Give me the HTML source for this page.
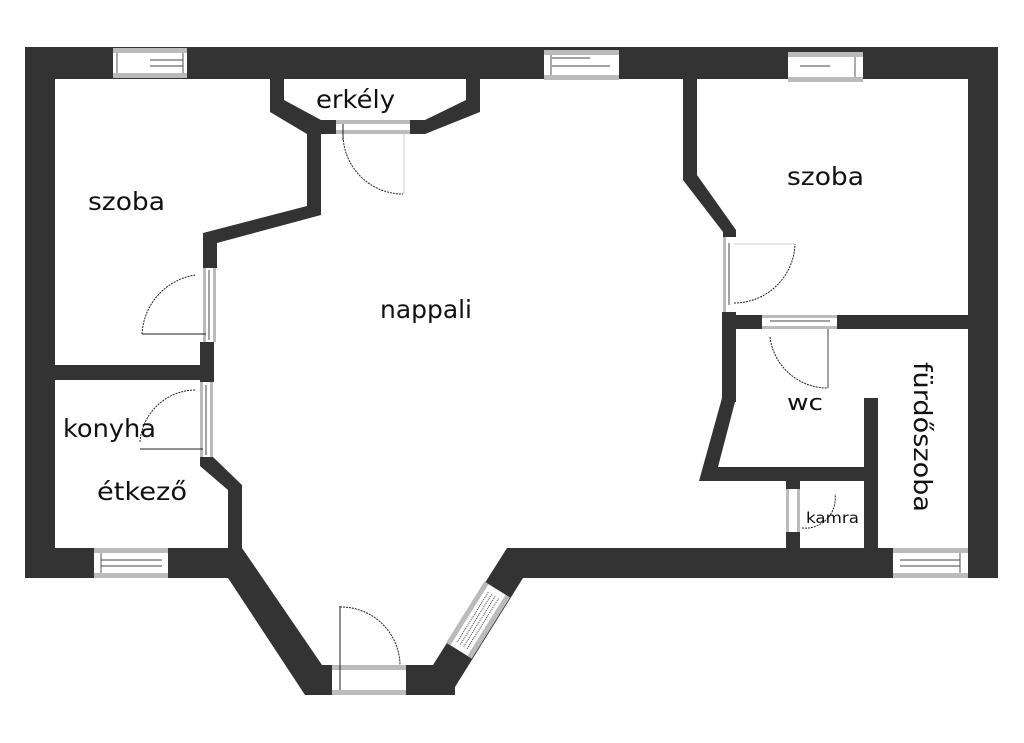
<!DOCTYPE html>
<html><head><meta charset="utf-8"><style>
html,body{margin:0;padding:0;background:#fff;width:1024px;height:743px;overflow:hidden}
text{font-family:"DejaVu Sans","Liberation Sans",sans-serif;fill:#111}
</style></head><body>
<svg width="1024" height="743" viewBox="0 0 1024 743" xmlns="http://www.w3.org/2000/svg">
<g fill="#333">
<rect x="25" y="47" width="973" height="32"/>
<rect x="25" y="47" width="30" height="531"/>
<rect x="968" y="50" width="30" height="528"/>
<rect x="25" y="548" width="217" height="30"/>
<rect x="507" y="548" width="491" height="30"/>
<polygon points="228,548 242,548 322,665 340,665 340,695 305,695 228,578"/>
<rect x="305" y="665" width="150" height="30"/>
<polygon points="433,665 507,548 523,548 523,578 450,695 433,695"/>
<polygon points="270,77 284,77 284,100 321,120 425,120 466,100 466,77 480,77 480,112 425,134 307,134 270,112"/>
<polygon points="307,127 321,127 321,215 217,243 217,268 203,268 203,233 307,206"/>
<rect x="200" y="342" width="14" height="40"/>
<rect x="55" y="365" width="159" height="15"/>
<polygon points="200,457 213,457 242,485 242,548 228,548 228,490 200,466"/>
<polygon points="683,79 697,79 697,175 736,230 736,237 723,237 723,232 683,180"/>
<rect x="722" y="312" width="14" height="90"/>
<rect x="722" y="315" width="246" height="14"/>
<polygon points="722,398 736,398 718,467 864,467 864,481 699,481"/>
<rect x="864" y="398" width="14" height="150"/>
<rect x="786" y="481" width="14" height="8"/>
<rect x="786" y="532" width="14" height="16"/>
</g>
<g>
<rect x="113" y="48" width="74" height="30" fill="#fff"/><rect x="113" y="48" width="74" height="5" fill="#bbb"/><rect x="113" y="73" width="74" height="5" fill="#bbb"/><line x1="117" y1="53" x2="117" y2="73" stroke="#555"/><line x1="183" y1="53" x2="183" y2="73" stroke="#555"/><line x1="150" y1="60" x2="183" y2="60" stroke="#444"/><line x1="150" y1="66" x2="183" y2="66" stroke="#444"/>
<rect x="544" y="50" width="75" height="30" fill="#fff"/><rect x="544" y="50" width="75" height="5" fill="#bbb"/><rect x="544" y="75" width="75" height="5" fill="#bbb"/><line x1="552" y1="58" x2="590" y2="58" stroke="#444"/><line x1="552" y1="66" x2="610" y2="66" stroke="#444"/><line x1="551" y1="55" x2="551" y2="75" stroke="#555"/>
<rect x="788" y="52" width="75" height="30" fill="#fff"/><rect x="788" y="52" width="75" height="5" fill="#bbb"/><rect x="788" y="77" width="75" height="5" fill="#bbb"/><line x1="855" y1="57" x2="855" y2="77" stroke="#555"/><line x1="800" y1="66" x2="830" y2="66" stroke="#444"/>
<rect x="94" y="548" width="74" height="30" fill="#fff"/><rect x="94" y="548" width="74" height="5" fill="#bbb"/><rect x="94" y="573" width="74" height="5" fill="#bbb"/><line x1="101" y1="553" x2="101" y2="573" stroke="#555"/><line x1="101" y1="560" x2="162" y2="560" stroke="#444"/><line x1="101" y1="566" x2="162" y2="566" stroke="#444"/>
<rect x="893" y="548" width="75" height="30" fill="#fff"/><rect x="893" y="548" width="75" height="5" fill="#bbb"/><rect x="893" y="573" width="75" height="5" fill="#bbb"/><line x1="960" y1="553" x2="960" y2="573" stroke="#555"/><line x1="900" y1="560" x2="960" y2="560" stroke="#444"/><line x1="900" y1="566" x2="960" y2="566" stroke="#444"/>
<rect x="332" y="665" width="74" height="30" fill="#fff"/><rect x="332" y="665" width="74" height="5" fill="#bbb"/><rect x="332" y="690" width="74" height="5" fill="#bbb"/>
<line x1="340" y1="606" x2="340" y2="690" stroke="#222"/><path d="M340,607 A59,59 0 0 1 400,665" fill="none" stroke="#222" stroke-dasharray="2,1"/>
<rect x="336" y="120" width="74" height="14" fill="#fff"/><rect x="336" y="120" width="74" height="4" fill="#bbb"/><rect x="336" y="130" width="74" height="4" fill="#bbb"/>
<line x1="343" y1="124" x2="343" y2="140" stroke="#222"/><line x1="404" y1="134" x2="404" y2="194" stroke="#ccc"/>
<path d="M343,134 A60,60 0 0 0 403,194" fill="none" stroke="#222" stroke-dasharray="2,1"/>
<rect x="203" y="268" width="13" height="74" fill="#fff"/><rect x="203" y="268" width="3" height="74" fill="#bbb"/><rect x="213" y="268" width="3" height="74" fill="#bbb"/><line x1="209" y1="270" x2="209" y2="340" stroke="#444"/>
<line x1="142" y1="334" x2="206" y2="334" stroke="#222"/><path d="M142,334 A63,63 0 0 1 195,275" fill="none" stroke="#222" stroke-dasharray="2,1"/>
<rect x="200" y="382" width="13" height="75" fill="#fff"/><rect x="200" y="382" width="3" height="75" fill="#bbb"/><rect x="210" y="382" width="3" height="75" fill="#bbb"/><line x1="206" y1="385" x2="206" y2="455" stroke="#444"/>
<line x1="140" y1="449" x2="203" y2="449" stroke="#222"/><path d="M140,442 A56,56 0 0 1 196,390" fill="none" stroke="#222" stroke-dasharray="2,1"/>
<rect x="723" y="237" width="13" height="75" fill="#fff"/><rect x="723" y="237" width="3" height="75" fill="#bbb"/><line x1="729" y1="243" x2="729" y2="305" stroke="#444"/>
<line x1="734" y1="244" x2="795" y2="244" stroke="#ccc"/><path d="M734,303 A61,61 0 0 0 795,244" fill="none" stroke="#222" stroke-dasharray="2,1"/>
<rect x="762" y="315" width="75" height="14" fill="#fff"/><rect x="762" y="315" width="75" height="3" fill="#bbb"/><rect x="762" y="326" width="75" height="3" fill="#bbb"/><line x1="770" y1="321" x2="830" y2="321" stroke="#444"/>
<line x1="828" y1="329" x2="828" y2="388" stroke="#444"/><path d="M770,337 A58,58 0 0 0 828,388" fill="none" stroke="#222" stroke-dasharray="2,1"/>
<rect x="786" y="489" width="14" height="43" fill="#fff"/><rect x="786" y="489" width="3" height="43" fill="#bbb"/><rect x="797" y="489" width="3" height="43" fill="#bbb"/>
<path d="M802,528 A30,30 0 0 0 835,494" fill="none" stroke="#222" stroke-dasharray="2,1"/>
<g transform="translate(478,620) rotate(-58)">
<rect x="-36" y="-15" width="72" height="30" fill="#fff"/><rect x="-36" y="-15" width="72" height="5" fill="#bbb"/><rect x="-36" y="10" width="72" height="5" fill="#bbb"/>
<line x1="-30" y1="-6" x2="30" y2="-6" stroke="#444" stroke-dasharray="1,1"/><line x1="-30" y1="-2" x2="30" y2="-2" stroke="#444" stroke-dasharray="1,1"/><line x1="-30" y1="2" x2="30" y2="2" stroke="#444" stroke-dasharray="1,1"/><line x1="-30" y1="6" x2="30" y2="6" stroke="#444" stroke-dasharray="1,1"/>
</g>
</g>
<text x="88" y="210" font-size="25" textLength="77" lengthAdjust="spacingAndGlyphs">szoba</text>
<text x="316" y="108" font-size="25" textLength="79" lengthAdjust="spacingAndGlyphs">erkély</text>
<text x="380" y="318" font-size="25" textLength="92" lengthAdjust="spacingAndGlyphs">nappali</text>
<text x="787" y="185" font-size="25" textLength="77" lengthAdjust="spacingAndGlyphs">szoba</text>
<text x="63" y="437" font-size="25" textLength="93" lengthAdjust="spacingAndGlyphs">konyha</text>
<text x="97" y="500" font-size="25" textLength="90" lengthAdjust="spacingAndGlyphs">étkező</text>
<text x="787" y="410" font-size="22" textLength="36" lengthAdjust="spacingAndGlyphs">wc</text>
<text x="806" y="523" font-size="15" textLength="53" lengthAdjust="spacingAndGlyphs">kamra</text>
<text transform="translate(914,362) rotate(90)" font-size="25" textLength="150" lengthAdjust="spacingAndGlyphs">fürdőszoba</text>
</svg>
</body></html>
